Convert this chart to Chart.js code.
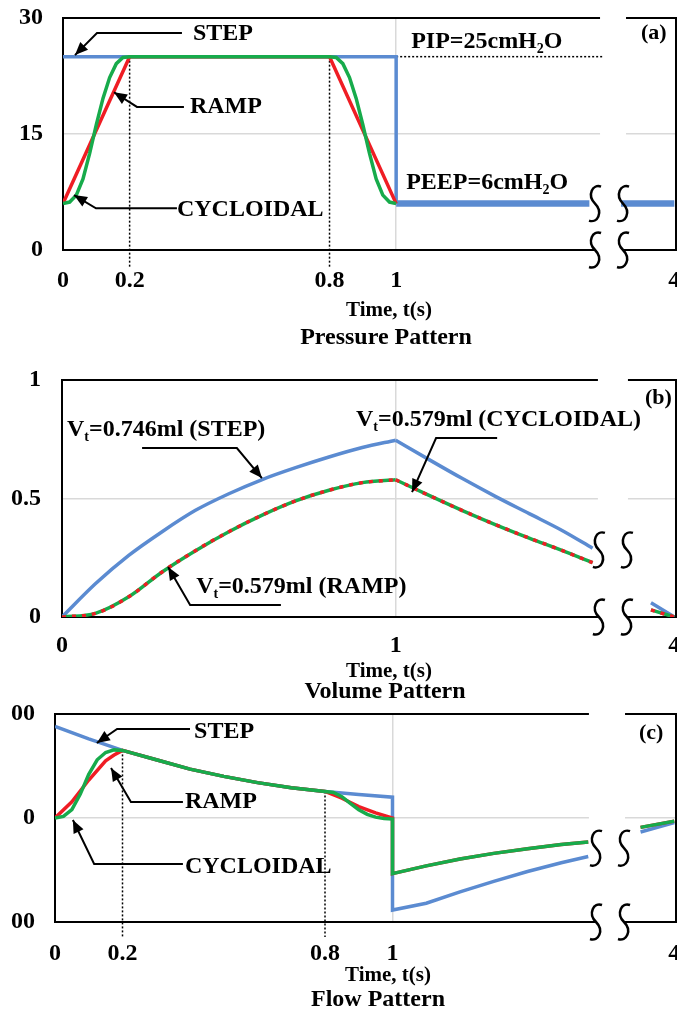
<!DOCTYPE html>
<html>
<head>
<meta charset="utf-8">
<title>Pressure, volume and flow patterns</title>
<script src="https://cdn.jsdelivr.net/npm/chart.js@4.4.1/dist/chart.umd.min.js"></script>
<style>
  html, body { margin: 0; padding: 0; background: #fff; }
  canvas { position: absolute; left: 0; }
</style>
</head>
<body>
<canvas id="pressure" width="677" height="350" style="top:0"></canvas>
<canvas id="volume" width="677" height="354" style="top:350px"></canvas>
<canvas id="flow" width="677" height="308" style="top:704px"></canvas>
<script>
const SERIF = '"Liberation Serif", "Times New Roman", serif';
const BLUE = '#5b8bd1', RED = '#ef1d24', GREEN = '#17ab4b', GRID = '#d9d9d9';

// the time axis is cut between ~1.6 s and ~3.8 s, later times slide left by this
const BREAK_SHIFT = 2.165;
const toAxis = t => (t > 2 ? t - BREAK_SHIFT : t);
const X_MAX = 1.84;

// ---- (a) pressure, cmH2O ----
const PIP = 25, PEEP = 6;
const pStepT = [0, 1, 1, 1.58, 1.6, 3.84, 4];
const pStep  = [25, 25, 6, 6, null, 6, 6];
const pRampT = [0, 0.2, 0.8, 1];
const pRamp  = [6, 25, 25, 6];
const pCycT  = [0, 0.02, 0.04, 0.06, 0.08, 0.1, 0.12, 0.14, 0.16, 0.18, 0.2,
                0.8, 0.82, 0.84, 0.86, 0.88, 0.9, 0.92, 0.94, 0.96, 0.98, 1];
const pCyc   = [6, 6.2, 7.1, 9.2, 12.5, 16.2, 19.6, 22.3, 24.1, 24.9, 25,
                25, 24.9, 24.1, 22.3, 19.6, 16.2, 12.5, 9.2, 7.1, 6.2, 6];
const pipT = [1, 1.62];
const pip  = [PIP, PIP];

// ---- (b) volume, ml (inspiration and expiration kept apart: sharp peak at 1 s) ----
const vInT    = [0, 0.1, 0.2, 0.3, 0.4, 0.5, 0.6, 0.7, 0.8, 0.9, 1];
const vInStep = [0, 0.14, 0.26, 0.36, 0.45, 0.52, 0.58, 0.63, 0.675, 0.715, 0.746];
// ramp and cycloidal give the same volume curve (0.579 ml)
const vInRampCyc = [0, 0.015, 0.085, 0.19, 0.28, 0.36, 0.43, 0.49, 0.535, 0.567, 0.579];
const vExT    = [1, 1.1, 1.2, 1.3, 1.4, 1.5, 1.59, 1.65, 3.93, 4];
const vExStep = [0.746, 0.664, 0.584, 0.508, 0.436, 0.364, 0.29, null, 0.06, 0];
const vExRampCyc = [0.579, 0.513, 0.449, 0.389, 0.333, 0.28, 0.229, null, 0.03, 0];

// ---- (c) flow ----
const fStepT = [0, 0.1, 0.2, 0.3, 0.4, 0.5, 0.6, 0.7, 0.8, 0.9, 1,
                1, 1.1, 1.2, 1.3, 1.4, 1.5, 1.58, 1.6, 3.9, 4];
const fStep  = [88, 76, 65, 56, 47, 40, 34, 29, 25.5, 22.5, 20,
                -88.5, -82, -71, -61, -51.5, -43, -37, null, -13.5, -4.5];
const fRampT = [0, 0.05, 0.1, 0.15, 0.175, 0.2, 0.3, 0.4, 0.5, 0.6, 0.7, 0.8, 0.85, 0.9, 0.95, 1,
                1, 1.1, 1.2, 1.3, 1.4, 1.5, 1.58, 1.6, 3.9, 4];
const fRamp  = [0, 15.5, 36.5, 55, 60.5, 65, 56, 47, 40, 34, 29, 25.5, 19, 11, 5, 0,
                -53.5, -46, -39.5, -34, -29.5, -25.5, -23, null, -9, -3];
const fCycT  = [0, 0.025, 0.05, 0.075, 0.1, 0.125, 0.15, 0.175, 0.2, 0.3, 0.4, 0.5, 0.6, 0.7,
                0.8, 0.825, 0.85, 0.875, 0.9, 0.925, 0.95, 0.975, 1,
                1, 1.1, 1.2, 1.3, 1.4, 1.5, 1.58, 1.6, 3.9, 4];
const fCyc   = [0, 1.5, 8, 23, 42, 56, 63, 65.5, 65, 56, 47, 40, 34, 29,
                25.5, 24.5, 20.5, 14, 8, 3.5, 0.8, -0.5, -1,
                -53.5, -46, -39.5, -34, -29.5, -25.5, -23, null, -9, -3];

// panel layout and decorations (annotation anchors are in axis units)
const PANELS = {
  pressure: {
    height: 350, top: 18, bottom: 250, left: 63, xPad: 16, yPad: 20,
    xTicks: [0, 0.2, 0.8, 1, 4], xLabels: ['0', '0.2', '0.8', '1', '4'],
    yMin: 0, yMax: 30, yTicks: [0, 15, 30], yLabels: ['0', '15', '30'], yGrid: 15,
    squiggle: [1.597, 1.681], squiggleY: PEEP, gap: [1.612, 1.69],
    guides: [[0.2, PIP], [0.8, PIP]], guideDrop: 17,
    notes: [
      { parts: ['STEP'], at: [0.39, 27.9], arrow: [[0.357, 28.06], [0.102, 28.06], [0.036, 25.2]] },
      { parts: ['RAMP'], at: [0.381, 18.5], arrow: [[0.363, 18.5], [0.222, 18.5], [0.153, 20.4]] },
      { parts: ['CYCLOIDAL'], at: [0.342, 5.2], arrow: [[0.342, 5.4], [0.099, 5.4], [0.033, 7.1]] },
      { parts: ['PIP=25cmH', { sub: '2' }, 'O'], at: [1.045, 26.9] },
      { parts: ['PEEP=6cmH', { sub: '2' }, 'O'], at: [1.03, 8.7] },
      { parts: ['(a)'], at: [1.735, 28.06], size: 22 }
    ],
    titles: [{ text: 'Time, t(s)', x: 389, y: 311, size: 21 }, { text: 'Pressure Pattern', x: 386, y: 338, size: 24 }]
  },
  volume: {
    height: 354, top: 30, bottom: 267, left: 62, xPad: 14, yPad: 21,
    xTicks: [0, 1, 4], xLabels: ['0', '1', '4'],
    yMin: 0, yMax: 1, yTicks: [0, 0.5, 1], yLabels: ['0', '0.5', '1'], yGrid: 0.5,
    squiggle: [1.609, 1.693], squiggleY: 0.283, gap: [1.606, 1.696],
    guides: [], guideDrop: 0,
    notes: [
      { parts: ['V', { sub: 't' }, '=0.746ml (STEP)'], at: [0.015, 0.789], arrow: [[0.24, 0.713], [0.524, 0.713], [0.599, 0.586]] },
      { parts: ['V', { sub: 't' }, '=0.579ml (CYCLOIDAL)'], at: [0.881, 0.831], arrow: [[1.304, 0.755], [1.121, 0.755], [1.049, 0.527]] },
      { parts: ['V', { sub: 't' }, '=0.579ml (RAMP)'], at: [0.402, 0.127], arrow: [[0.656, 0.051], [0.384, 0.051], [0.318, 0.211]] },
      { parts: ['(b)'], at: [1.747, 0.924], size: 22 }
    ],
    titles: [{ text: 'Time, t(s)', x: 389, y: 322, size: 21 }, { text: 'Volume Pattern', x: 385, y: 342, size: 24 }]
  },
  flow: {
    height: 308, top: 10, bottom: 218, left: 55, xPad: 17, yPad: 20,
    xTicks: [0, 0.2, 0.8, 1, 4], xLabels: ['0', '0.2', '0.8', '1', '4'],
    yMin: -100, yMax: 100, yTicks: [-100, 0, 100], yLabels: ['00', '0', '00'], yGrid: 0,
    squiggle: [1.603, 1.686], squiggleY: -29, gap: [1.582, 1.689],
    guides: [[0.2, 65], [0.8, 25.5]], guideDrop: 15,
    notes: [
      { parts: ['STEP'], at: [0.412, 82.7], arrow: [[0.4, 85.6], [0.184, 85.6], [0.124, 72.1]] },
      { parts: ['RAMP'], at: [0.385, 15.4], arrow: [[0.379, 15.4], [0.225, 15.4], [0.166, 48.1]] },
      { parts: ['CYCLOIDAL'], at: [0.385, -47], arrow: [[0.379, -44.2], [0.116, -44.2], [0.053, -1.9]] },
      { parts: ['(c)'], at: [1.73, 81.7], size: 22 }
    ],
    titles: [{ text: 'Time, t(s)', x: 388, y: 272, size: 21 }, { text: 'Flow Pattern', x: 378, y: 296, size: 24 }]
  }
};

function squiggle(ctx, cx, cy) {
  const h = 17, w = 6;
  ctx.beginPath();
  ctx.moveTo(cx + w, cy - h);
  ctx.bezierCurveTo(cx - w * 0.4, cy - h - 3, cx - w * 1.4, cy - h * 0.5, cx, cy);
  ctx.bezierCurveTo(cx + w * 1.4, cy + h * 0.5, cx + w * 0.4, cy + h + 3, cx - w, cy + h);
  ctx.stroke();
}

function drawRich(ctx, parts, x, y, size) {
  let cx = x;
  for (const p of parts) {
    const sub = typeof p !== 'string';
    const txt = sub ? p.sub : p;
    ctx.font = `bold ${sub ? Math.round(size * 0.6) : size}px ${SERIF}`;
    ctx.fillText(txt, cx, sub ? y + size * 0.32 : y);
    cx += ctx.measureText(txt).width;
  }
}

function drawArrow(ctx, pts) {
  ctx.beginPath();
  pts.forEach((p, i) => (i ? ctx.lineTo(p[0], p[1]) : ctx.moveTo(p[0], p[1])));
  ctx.stroke();
  const a = pts[pts.length - 2], b = pts[pts.length - 1];
  const ang = Math.atan2(b[1] - a[1], b[0] - a[0]);
  const L = 13, W = 5.5;
  const bx = b[0] - L * Math.cos(ang), by = b[1] - L * Math.sin(ang);
  ctx.beginPath();
  ctx.moveTo(b[0], b[1]);
  ctx.lineTo(bx + W * Math.sin(ang), by - W * Math.cos(ang));
  ctx.lineTo(bx - W * Math.sin(ang), by + W * Math.cos(ang));
  ctx.closePath();
  ctx.fill();
}

const decor = {
  id: 'decor',
  beforeDatasetsDraw(chart) {
    const p = PANELS[chart.canvas.id];
    const { ctx, chartArea: a, scales: { x, y } } = chart;
    const s1 = x.getPixelForValue(p.squiggle[0]), s2 = x.getPixelForValue(p.squiggle[1]);
    const g1 = x.getPixelForValue(p.gap[0]), g2 = x.getPixelForValue(p.gap[1]);
    ctx.save();
    // cut the grid at the axis break
    ctx.fillStyle = '#fff';
    ctx.fillRect(g1, a.top - 2, g2 - g1, a.bottom - a.top);
    // frame
    ctx.strokeStyle = '#000';
    ctx.lineWidth = 2;
    ctx.beginPath();
    ctx.moveTo(g1, a.top); ctx.lineTo(a.left, a.top); ctx.lineTo(a.left, a.bottom); ctx.lineTo(s1, a.bottom);
    ctx.moveTo(g2, a.top); ctx.lineTo(a.right, a.top); ctx.lineTo(a.right, a.bottom); ctx.lineTo(s2, a.bottom);
    ctx.stroke();
    // dotted guides at 0.2 s and 0.8 s
    ctx.lineWidth = 1.5;
    ctx.setLineDash([2, 2]);
    p.guides.forEach(([gx, gy]) => {
      const px = x.getPixelForValue(gx);
      ctx.beginPath();
      ctx.moveTo(px, y.getPixelForValue(gy));
      ctx.lineTo(px, a.bottom + p.guideDrop);
      ctx.stroke();
    });
    ctx.restore();
  },
  afterDatasetsDraw(chart) {
    const p = PANELS[chart.canvas.id];
    const { ctx, chartArea: a, scales: { x, y } } = chart;
    ctx.save();
    ctx.strokeStyle = '#000';
    ctx.fillStyle = '#000';
    ctx.lineWidth = 2.5;
    p.squiggle.forEach(v => {
      const px = x.getPixelForValue(v);
      squiggle(ctx, px, y.getPixelForValue(p.squiggleY));
      squiggle(ctx, px, a.bottom);
    });
    ctx.lineWidth = 2;
    ctx.textBaseline = 'middle';
    ctx.textAlign = 'left';
    p.notes.forEach(n => {
      if (n.arrow) drawArrow(ctx, n.arrow.map(([u, v]) => [x.getPixelForValue(u), y.getPixelForValue(v)]));
      drawRich(ctx, n.parts, x.getPixelForValue(n.at[0]), y.getPixelForValue(n.at[1]), n.size || 24);
    });
    ctx.textAlign = 'center';
    p.titles.forEach(t => {
      ctx.font = `bold ${t.size}px ${SERIF}`;
      ctx.fillText(t.text, t.x, t.y);
    });
    ctx.restore();
  }
};

function lineSet(label, times, vals, color, extra) {
  return Object.assign({
    label,
    data: times.map((t, i) => ({ x: toAxis(t), y: vals[i] })),
    borderColor: color, borderWidth: 3.5, pointRadius: 0, tension: 0, spanGaps: false, fill: false
  }, extra);
}

function makeChart(id, datasets) {
  const p = PANELS[id];
  return new Chart(document.getElementById(id), {
    type: 'line',
    data: { datasets },
    options: {
      responsive: false,
      animation: false,
      events: [],
      layout: { autoPadding: false, padding: { top: p.top, right: 1, left: 0, bottom: 0 } },
      plugins: { legend: { display: false }, tooltip: { enabled: false } },
      scales: {
        x: {
          type: 'linear', min: 0, max: X_MAX,
          afterBuildTicks: s => { s.ticks = p.xTicks.map(v => ({ value: toAxis(v) })); },
          afterFit: s => { s.height = p.height - p.bottom; s.paddingLeft = 0; s.paddingRight = 0; },
          ticks: { autoSkip: false, maxRotation: 0, padding: p.xPad, callback: (v, i) => p.xLabels[i] },
          grid: { drawTicks: false, lineWidth: 1.5, color: c => (c.tick && c.tick.value === 1 ? GRID : 'transparent') },
          border: { display: false }
        },
        y: {
          type: 'linear', min: p.yMin, max: p.yMax,
          afterBuildTicks: s => { s.ticks = p.yTicks.map(v => ({ value: v })); },
          afterFit: s => { s.width = p.left; s.paddingTop = 0; s.paddingBottom = 0; },
          ticks: { padding: p.yPad, callback: (v, i) => p.yLabels[i] },
          grid: { drawTicks: false, lineWidth: 1.5, color: c => (c.tick && c.tick.value === p.yGrid ? GRID : 'transparent') },
          border: { display: false }
        }
      }
    },
    plugins: [decor]
  });
}

Chart.defaults.font.family = SERIF;
Chart.defaults.font.size = 24;
Chart.defaults.font.weight = 'bold';
Chart.defaults.color = '#000';

makeChart('pressure', [
  lineSet('CYCLOIDAL', pCycT, pCyc, GREEN),
  lineSet('RAMP', pRampT, pRamp, RED),
  lineSet('STEP', pStepT, pStep, BLUE, {
    segment: { borderWidth: c => (c.p0.parsed.y === PEEP && c.p1.parsed.y === PEEP ? 6.5 : 3.5) }
  }),
  lineSet('PIP', pipT, pip, '#000', { borderWidth: 1.5, borderDash: [2, 2] })
]);

const smooth = { cubicInterpolationMode: 'monotone' };
makeChart('volume', [
  lineSet('RAMP', vInT, vInRampCyc, RED, { ...smooth, borderDash: [4, 6] }),
  lineSet('RAMP', vExT, vExRampCyc, RED, { ...smooth, borderDash: [4, 6] }),
  lineSet('CYCLOIDAL', vInT, vInRampCyc, GREEN, smooth),
  lineSet('CYCLOIDAL', vExT, vExRampCyc, GREEN, smooth),
  lineSet('STEP', vInT, vInStep, BLUE, smooth),
  lineSet('STEP', vExT, vExStep, BLUE, smooth)
]);

makeChart('flow', [
  lineSet('CYCLOIDAL', fCycT, fCyc, GREEN),
  lineSet('RAMP', fRampT, fRamp, RED),
  lineSet('STEP', fStepT, fStep, BLUE)
]);
</script>
</body>
</html>
